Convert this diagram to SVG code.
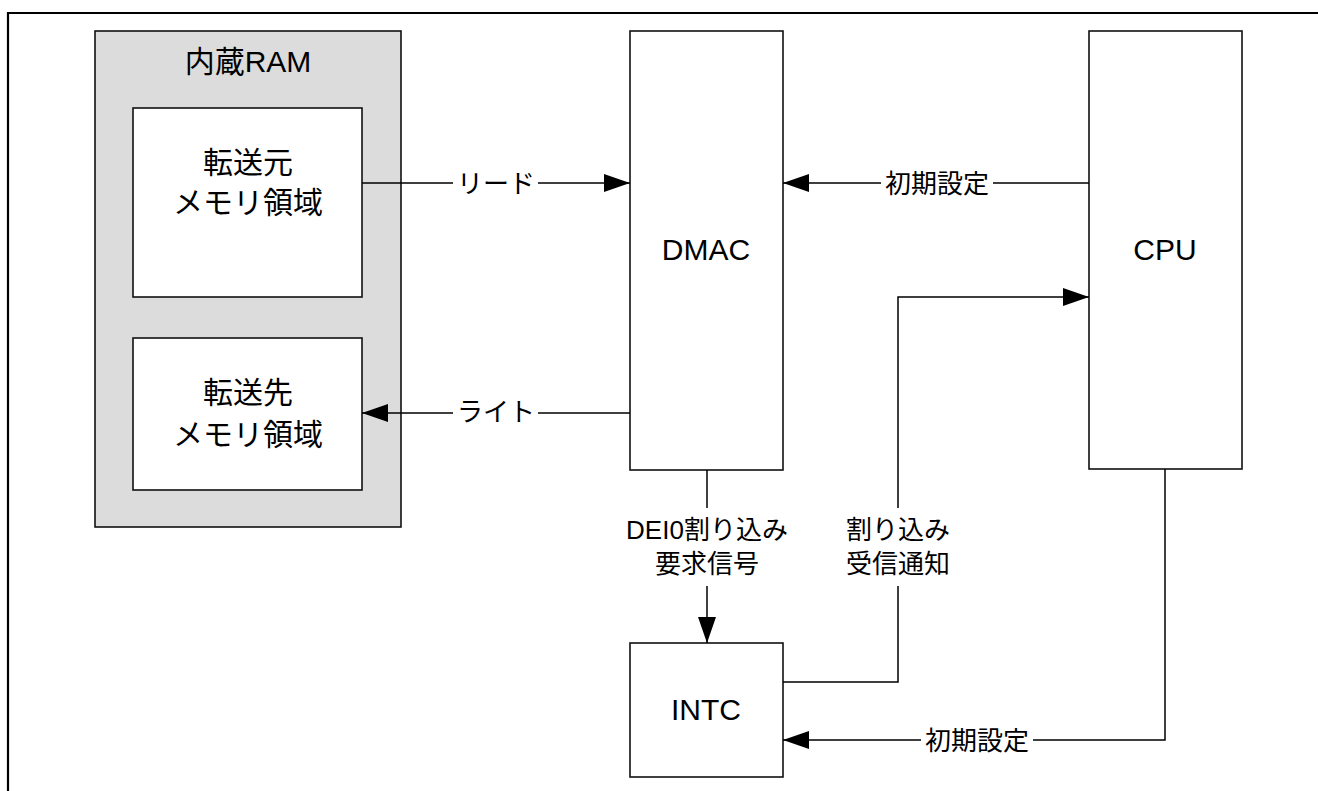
<svg xmlns="http://www.w3.org/2000/svg" width="1318" height="791" viewBox="0 0 1318 791">
<style>
.box{fill:#fff;stroke:#111;stroke-width:1.6}
.cont{fill:#dcdcdc;stroke:#111;stroke-width:1.6}
.frame{fill:none;stroke:#000;stroke-width:2.2}
.ln{fill:none;stroke:#000;stroke-width:1.5}
.big{font-family:"Liberation Sans","Noto Sans CJK JP",sans-serif;font-size:30px;fill:#000;text-anchor:middle}
.lbl{font-family:"Liberation Sans","Noto Sans CJK JP",sans-serif;font-size:26px;fill:#000;text-anchor:middle}
</style>
<defs>
<marker id="ah" viewBox="0 0 26 18" refX="26" refY="9" markerWidth="26" markerHeight="18" markerUnits="userSpaceOnUse" orient="auto">
<path d="M0,0 L26,9 L0,18 z" fill="#000"/>
</marker>
</defs>
<path class="frame" d="M8,791 L8,13 L1318,13"/>
<g id="ram">
<rect class="cont" x="95" y="31" width="306" height="496"/>
<text class="big" x="248" y="72">内蔵RAM</text>
</g>
<g id="src">
<rect class="box" x="133" y="108" width="229" height="189"/>
<text class="big" x="248" y="173">転送元</text>
<text class="big" x="248" y="213">メモリ領域</text>
</g>
<g id="dst">
<rect class="box" x="133" y="338" width="229" height="152"/>
<text class="big" x="248" y="403">転送先</text>
<text class="big" x="248" y="445">メモリ領域</text>
</g>
<g id="dmac">
<rect class="box" x="630" y="31" width="153" height="439"/>
<text class="big" x="706" y="260">DMAC</text>
</g>
<g id="cpu">
<rect class="box" x="1089" y="31" width="153" height="438"/>
<text class="big" x="1165" y="260">CPU</text>
</g>
<g id="intc">
<rect class="box" x="630" y="643" width="153" height="134"/>
<text class="big" x="706" y="720">INTC</text>
</g>
<g id="connectors">
<path class="ln" d="M362,183 L453,183 M538,183 L630,183" marker-end="url(#ah)"/>
<text class="lbl" x="496" y="193">リード</text>
<path class="ln" d="M630,413 L538,413 M453,413 L362,413" marker-end="url(#ah)"/>
<text class="lbl" x="496" y="421">ライト</text>
<path class="ln" d="M1089,183 L993,183 M881,183 L783,183" marker-end="url(#ah)"/>
<text class="lbl" x="937" y="193">初期設定</text>
<path class="ln" d="M707,470 L707,508 M707,586 L707,643" marker-end="url(#ah)"/>
<text class="lbl" x="707" y="539">DEI0割り込み</text>
<text class="lbl" x="707" y="573">要求信号</text>
<path class="ln" d="M783,682 L898,682 L898,586 M898,508 L898,297 L1089,297" marker-end="url(#ah)"/>
<text class="lbl" x="898" y="539">割り込み</text>
<text class="lbl" x="898" y="573">受信通知</text>
<path class="ln" d="M1165,469 L1165,740 L1033,740 M921,740 L783,740" marker-end="url(#ah)"/>
<text class="lbl" x="977" y="750">初期設定</text>
</g>
</svg>
